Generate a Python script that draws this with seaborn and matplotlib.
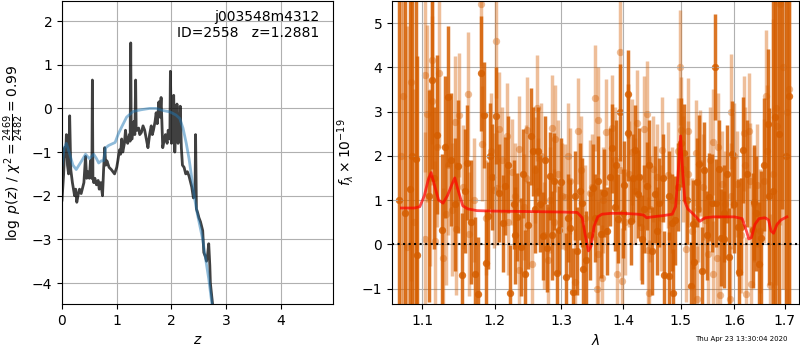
import numpy as np
import matplotlib
matplotlib.use('Agg')
import matplotlib.pyplot as plt
import matplotlib.ticker as mticker
import seaborn as sns

# p(z) panel
z_grid = [0.0, 0.03, 0.05, 0.065, 0.08, 0.10, 0.12, 0.14, 0.16, 0.19,
          0.21, 0.23, 0.25, 0.27, 0.30, 0.32, 0.35, 0.38, 0.40, 0.43,
          0.45, 0.47, 0.50, 0.52, 0.545, 0.555, 0.565, 0.58, 0.60, 0.63,
          0.66, 0.68, 0.71, 0.74, 0.76, 0.78, 0.80, 0.82, 0.86, 0.90,
          0.96, 1.00, 1.02, 1.05, 1.07, 1.09, 1.11, 1.14, 1.16, 1.18,
          1.20, 1.23, 1.245, 1.255, 1.265, 1.28, 1.30, 1.315, 1.33, 1.345,
          1.355, 1.37, 1.40, 1.42, 1.45, 1.48, 1.51, 1.54, 1.57, 1.60,
          1.63, 1.65, 1.67, 1.70, 1.72, 1.74, 1.77, 1.79, 1.81, 1.84,
          1.87, 1.89, 1.92, 1.94, 1.97, 1.98, 2.00, 2.02, 2.04, 2.06,
          2.08, 2.10, 2.12, 2.14, 2.16, 2.18, 2.20, 2.23, 2.26, 2.29,
          2.32, 2.35, 2.37, 2.40, 2.43, 2.44, 2.455, 2.48, 2.50, 2.53,
          2.55, 2.57, 2.59, 2.62, 2.64, 2.66, 2.68, 2.70, 2.71, 2.76]
log_pz = [-2.1, -1.5, -0.9, -1.1, -0.6, -1.3, -1.5, -0.17, -1.4, -1.7,
          -1.85, -2.0, -1.85, -2.15, -1.95, -1.85, -1.95, -1.8, -1.7, -1.1,
          -1.6, -1.45, -1.6, -1.2, -1.6, 0.65, -1.6, -1.7, -1.6, -1.75,
          -1.65, -1.85, -1.7, -2.0, -1.4, -0.9, -1.3, -1.2, -1.35, -1.4,
          -1.5, -1.35, -1.2, -0.95, -1.05, -0.7, -1.0, -0.8, -0.5, -0.75,
          -0.8, -0.6, -0.75, 1.5, -0.7, -0.7, -0.4, -0.3, -0.6, 0.65,
          -0.5, -0.5, -0.45, -0.6, -0.55, -0.4, -0.5, -0.7, -0.9, -0.6,
          -0.4, -0.6, -0.5, -0.3, -0.1, -0.35, 0.15, -0.2, 0.25, -0.9,
          -0.7, -0.6, -0.8, -0.5, -0.7, 0.85, -0.8, -0.3, 0.3, -1.0,
          -0.4, 0.1, -0.8, -0.6, 0.05, -0.9, -1.3, -1.35, -1.5, -1.45,
          -1.55, -1.7, -1.8, -2.05, -1.9, -0.6, -2.3, -2.4, -2.5, -2.6,
          -2.7, -2.8, -3.3, -3.4, -3.5, -3.35, -3.1, -3.6, -4.0, -4.6]

z_smooth = [0.0, 0.04, 0.08, 0.13, 0.2, 0.26, 0.31, 0.36, 0.43, 0.5,
            0.58, 0.63, 0.67, 0.72, 0.76, 0.8, 0.85, 0.97, 1.03, 1.1,
            1.18, 1.3, 1.45, 1.6, 1.72, 1.85, 1.97, 2.08, 2.15, 2.21,
            2.27, 2.32, 2.36, 2.42, 2.47, 2.52, 2.57, 2.63, 2.68, 2.75]
log_pz_smooth = [-1.3, -0.9, -0.8, -1.0, -1.3, -1.4, -1.3, -1.2, -1.05, -1.15,
                 -1.05, -1.15, -1.25, -1.2, -1.2, -0.9, -0.85, -0.78, -0.58, -0.4,
                 -0.2, -0.07, -0.03, 0.0, 0.0, -0.05, -0.08, -0.15, -0.23, -0.45,
                 -0.8, -1.15, -1.5, -2.05, -2.4, -2.7, -3.0, -3.5, -3.9, -4.6]

# spectrum panel, grism 1 (solid)
wave_a = [1.0773, 1.0838, 1.0916, 1.0938, 1.1093, 1.1127, 1.1194, 1.1271, 1.1348, 1.1384,
          1.1489, 1.1535, 1.1583, 1.1614, 1.1721, 1.1763, 1.1800, 1.1848, 1.1871, 1.1905,
          1.1956, 1.2014, 1.2057, 1.2115, 1.2154, 1.2228, 1.2277, 1.2326, 1.2390, 1.2449,
          1.2498, 1.2538, 1.2563, 1.2647, 1.2672, 1.2713, 1.2774, 1.2825, 1.2887, 1.2938,
          1.2969, 1.3068, 1.3136, 1.3189, 1.3242, 1.3295, 1.3332, 1.3348, 1.3385, 1.3509,
          1.3579, 1.3638, 1.3681, 1.3774, 1.3818, 1.3857, 1.3912, 1.3956, 1.4023, 1.4079,
          1.4091, 1.4136, 1.4209, 1.4249, 1.4277, 1.4317, 1.4409, 1.4496, 1.4548, 1.4624,
          1.4711, 1.4788, 1.4799, 1.4848, 1.4870, 1.4906, 1.5056, 1.5189, 1.5219, 1.5250,
          1.5341, 1.5393, 1.5436, 1.5529, 1.5578, 1.5641, 1.5653, 1.5747, 1.5798, 1.5855,
          1.5893, 1.5950, 1.6065, 1.6097, 1.6162, 1.6357, 1.6390, 1.6475, 1.6521, 1.6654,
          1.6687, 1.6808, 1.6950, 1.7092,
          1.0700, 1.0870, 1.1160, 1.1300, 1.1440, 1.1660, 1.1930, 1.2190, 1.2300, 1.2420,
          1.2600, 1.2750, 1.2860, 1.3000, 1.3100, 1.3220, 1.3450, 1.3540, 1.3730, 1.3880,
          1.4000, 1.4170, 1.4360, 1.4450, 1.4580, 1.4680, 1.4960, 1.5000, 1.5110, 1.5300,
          1.5480, 1.5700, 1.5800, 1.5990, 1.6130, 1.6250, 1.6420, 1.6580, 1.6750, 1.6880,
          1.7020]
flux_a = [0.71, 1.24, 1.92, -0.25, 1.09, 3.71, 2.48, 0.33, 3.34, 1.91,
          1.76, -0.70, 1.20, 1.84, -0.68, -1.13, 3.87, 2.92, -0.42, 0.65,
          1.53, 2.91, 1.16, 0.47, 1.32, -1.11, 0.90, 0.62, -0.06, -0.68,
          0.43, 2.44, 2.10, 2.10, 0.92, 0.19, -0.08, 1.54, 1.42, -0.65,
          0.32, -0.75, 0.37, -1.08, -0.15, 1.20, 0.94, -0.56, -0.35, 1.27,
          1.44, 0.24, 1.16, 1.52, 2.17, 0.84, 0.58, 2.98, 1.33, 3.40,
          2.52, 0.53, 2.14, 1.14, 1.52, 0.11, 1.32, -0.15, 1.13, 0.94,
          -0.70, -0.72, 1.10, 0.49, -1.11, 0.54, 2.07, -0.94, 0.45, -0.40,
          1.82, -0.60, 1.67, 1.07, 0.93, 4.00, 0.93, 0.15, 0.11, 1.59,
          -0.29, 2.03, 0.38, -0.62, 2.14, 0.32, 0.95, -0.44, 0.15, 2.72,
          1.09, 2.87, 5.80, 3.36,
          1.0, 2.0, 1.5, 2.2, 0.9, 0.5, 2.0, 1.8, 0.2, 1.6,
          0.8, 1.9, 0.2, 1.4, 0.6, 1.1, 0.2, 0.6, 0.3, 1.8,
          0.7, 1.5, 0.8, 1.8, 0.3, 1.5, 1.3, 2.3, 1.0, 1.4,
          0.2, 1.7, 0.7, 0.9, 0.4, 1.6, 0.7, 1.8, 1.2, 2.5,
          2.0]
err_a = [5.0, 5.0, 4.5, 4.5, 2.4, 2.0, 1.8, 1.7, 1.6, 1.5,
         1.5, 1.4, 1.4, 1.3, 1.3, 1.3, 1.3, 1.2, 1.2, 1.2,
         1.2, 1.1, 1.1, 1.1, 1.1, 1.1, 1.0, 1.0, 1.1, 1.0,
         1.0, 1.1, 1.0, 1.0, 1.1, 1.0, 1.0, 1.0, 1.1, 1.0,
         1.0, 1.0, 1.1, 1.0, 1.0, 1.1, 1.0, 1.0, 1.1, 1.0,
         1.0, 1.0, 1.0, 1.1, 1.0, 1.0, 1.0, 1.1, 1.0, 1.0,
         1.1, 1.0, 1.0, 1.0, 1.1, 1.0, 1.0, 1.0, 1.1, 1.0,
         1.0, 1.0, 1.0, 1.1, 1.0, 1.0, 1.1, 1.0, 1.0, 1.0,
         1.1, 1.0, 1.1, 1.0, 1.1, 1.2, 1.0, 1.1, 1.1, 1.1,
         1.1, 1.2, 1.1, 1.2, 1.2, 1.3, 1.3, 1.4, 1.5, 1.7,
         2.0, 4.5, 5.0, 5.0,
         5.0, 5.0, 1.6, 1.6, 1.5, 1.4, 1.2, 1.1, 1.1, 1.0,
         1.0, 1.0, 1.0, 1.0, 1.0, 1.0, 1.0, 1.0, 1.0, 1.0,
         1.0, 1.0, 1.0, 1.0, 1.0, 1.0, 1.0, 1.0, 1.0, 1.0,
         1.0, 1.1, 1.1, 1.1, 1.1, 1.2, 1.3, 1.5, 4.5, 5.0,
         5.0]

# grism 2 (faint)
wave_b = [1.0756, 1.0808, 1.0850, 1.1034, 1.1040, 1.1070, 1.1127, 1.1130, 1.1173, 1.1226,
          1.1275, 1.1325, 1.1397, 1.1439, 1.1452, 1.1492, 1.1618, 1.1637, 1.1805, 1.1824,
          1.1942, 1.1991, 1.2024, 1.2040, 1.2106, 1.2179, 1.2252, 1.2350, 1.2360, 1.2424,
          1.2483, 1.2548, 1.2597, 1.2622, 1.2637, 1.2738, 1.2789, 1.2851, 1.2892, 1.2902,
          1.3005, 1.3057, 1.3140, 1.3215, 1.3268, 1.3311, 1.3455, 1.3536, 1.3563, 1.3585,
          1.3590, 1.3645, 1.3719, 1.3813, 1.3901, 1.3940, 1.3951, 1.3984, 1.4096, 1.4152,
          1.4232, 1.4363, 1.4403, 1.4421, 1.4449, 1.4467, 1.4577, 1.4670, 1.4770, 1.4948,
          1.4990, 1.5008, 1.5098, 1.5128, 1.5140, 1.5280, 1.5298, 1.5311, 1.5350, 1.5454,
          1.5498, 1.5591, 1.5600, 1.5666, 1.5685, 1.5729, 1.5766, 1.5925, 1.5937, 1.5944,
          1.6046, 1.6181, 1.6214, 1.6227, 1.6279, 1.6305, 1.6324, 1.6442, 1.6587, 1.6620,
          1.6634, 1.6700, 1.6821, 1.6835, 1.6909, 1.7040,
          1.0720, 1.0900, 1.1100, 1.1200, 1.1350, 1.1550, 1.1700, 1.1880, 1.2070, 1.2200,
          1.2300, 1.2460, 1.2680, 1.2820, 1.2950, 1.3100, 1.3380, 1.3480, 1.3660, 1.3860,
          1.4030, 1.4200, 1.4300, 1.4520, 1.4650, 1.4850, 1.5050, 1.5200, 1.5400, 1.5530,
          1.5820, 1.6000, 1.6120, 1.6380, 1.6500, 1.6760, 1.6960, 1.7090]
flux_b = [3.36, -0.06, 3.68, 0.13, 3.83, 2.95, 4.17, 3.25, 0.08, 3.88,
          -0.32, 0.68, 0.78, 2.76, 0.35, 2.92, 3.40, 0.24, 5.44, 2.27,
          2.12, 1.22, 4.60, 1.28, 1.90, 2.44, 1.63, -0.59, 2.15, 0.84,
          2.59, -0.44, 1.67, 3.08, 1.20, 0.20, -0.36, 2.63, 0.50, 2.39,
          1.10, 1.07, 1.44, -0.85, 2.57, 1.69, 1.16, 3.31, -1.02, 2.80,
          -0.23, -0.76, 2.53, 2.63, -0.68, 4.34, 1.69, -0.83, 1.59, 2.08,
          2.74, 2.60, 2.95, -0.14, -1.11, 0.80, 1.52, 2.14, 1.56, 2.10,
          4.00, 2.59, -0.10, 2.55, 1.59, 2.07, -1.23, 0.80, 1.84, 0.54,
          -0.21, 2.32, -0.68, -0.31, 2.21, -1.15, 1.37, -1.23, 1.10, 3.00,
          1.37, 2.51, 1.80, -1.13, 2.57, 1.44, -0.89, 1.33, 1.44, 3.35,
          2.10, -0.92, 3.08, 2.68, 5.44, 3.00,
          2.0, 0.5, 1.5, 2.2, 1.8, 1.3, 1.0, 0.6, 2.6, 0.5,
          1.1, 1.5, 2.0, 1.0, 1.6, 2.0, 0.6, 1.3, 1.0, 1.9,
          0.5, 1.2, 0.4, 1.7, 0.6, 1.0, 1.7, 0.3, 1.3, 1.9,
          0.9, 2.0, 0.2, 0.9, 0.3, 1.6, 4.0, 3.5]
err_b = [5.0, 5.0, 4.5, 2.4, 2.2, 2.0, 1.9, 1.9, 1.8, 1.7,
         1.6, 1.6, 1.5, 1.5, 1.5, 1.4, 1.4, 1.4, 1.4, 1.3,
         1.3, 1.3, 1.3, 1.3, 1.2, 1.2, 1.2, 1.2, 1.2, 1.2,
         1.2, 1.2, 1.2, 1.2, 1.2, 1.2, 1.2, 1.2, 1.2, 1.2,
         1.2, 1.2, 1.2, 1.2, 1.2, 1.2, 1.2, 1.2, 1.2, 1.2,
         1.2, 1.2, 1.2, 1.2, 1.2, 1.3, 1.2, 1.2, 1.2, 1.2,
         1.2, 1.2, 1.2, 1.2, 1.2, 1.2, 1.2, 1.2, 1.2, 1.2,
         1.3, 1.2, 1.2, 1.2, 1.2, 1.2, 1.2, 1.2, 1.2, 1.2,
         1.2, 1.2, 1.2, 1.2, 1.2, 1.2, 1.2, 1.2, 1.2, 1.3,
         1.2, 1.3, 1.3, 1.3, 1.3, 1.3, 1.3, 1.4, 1.4, 1.5,
         1.5, 1.6, 4.0, 4.5, 5.0, 5.0,
         5.0, 3.0, 2.0, 1.8, 1.6, 1.4, 1.4, 1.3, 1.3, 1.2,
         1.2, 1.2, 1.2, 1.2, 1.2, 1.2, 1.2, 1.2, 1.2, 1.2,
         1.2, 1.2, 1.2, 1.2, 1.2, 1.2, 1.2, 1.2, 1.2, 1.2,
         1.2, 1.2, 1.3, 1.3, 1.4, 3.5, 5.0, 5.0]

# best-fit model
model_wave = [1.073, 1.09, 1.097, 1.103, 1.108, 1.112, 1.117, 1.122, 1.128, 1.134,
              1.140, 1.144, 1.149, 1.155, 1.162, 1.175, 1.20, 1.25, 1.30, 1.325,
              1.333, 1.338, 1.343, 1.347, 1.352, 1.358, 1.365, 1.38, 1.40, 1.425,
              1.435, 1.44, 1.45, 1.47, 1.485, 1.491, 1.495, 1.50, 1.504, 1.508,
              1.513, 1.52, 1.528, 1.535, 1.545, 1.56, 1.60, 1.615, 1.622, 1.628,
              1.633, 1.64, 1.648, 1.66, 1.667, 1.672, 1.677, 1.684, 1.692, 1.704]
model_flux = [0.82, 0.82, 0.85, 1.1, 1.45, 1.62, 1.3, 1.0, 0.93, 1.1,
              1.35, 1.5, 1.2, 0.87, 0.8, 0.76, 0.75, 0.74, 0.73, 0.72,
              0.6, 0.2, -0.15, -0.05, 0.4, 0.62, 0.68, 0.7, 0.7, 0.68,
              0.66, 0.6, 0.62, 0.65, 0.68, 0.85, 1.5, 2.45, 1.6, 0.95,
              0.8, 0.72, 0.62, 0.52, 0.6, 0.62, 0.62, 0.58, 0.35, 0.12,
              0.15, 0.45, 0.58, 0.6, 0.55, 0.3, 0.25, 0.45, 0.55, 0.62]

wave_ticks = [1.1, 1.2, 1.3, 1.4, 1.5, 1.6, 1.7]
grism_color = (0.835, 0.369, 0.0)

fig = plt.figure(figsize=(8, 3.5), dpi=100)
ax1 = fig.add_axes([62/800, 46/350, 271/800, 303/350])
ax2 = fig.add_axes([392/800, 46/350, 407/800, 303/350])

# left: p(z)
sns.lineplot(x=z_grid, y=log_pz, ax=ax1, color='k', alpha=0.75, lw=2, sort=False)
sns.lineplot(x=z_smooth, y=log_pz_smooth, ax=ax1, color='tab:blue', alpha=0.5, lw=2, sort=False)
ax1.set_xlim(0, 4.95)
ax1.set_ylim(-4.48, 2.46)
ax1.set_xticks([0, 1, 2, 3, 4])
ax1.set_yticks([-4, -3, -2, -1, 0, 1, 2])
ax1.grid(True)
ax1.set_xlabel(r'$z$')
ax1.set_ylabel(r'$\log\ p(z)$' + ' / ' + r'$\chi^2=\frac{2469}{2482}=0.99$')
ax1.text(0.95, 0.97, 'j003548m4312\nID=2558   z=1.2881', transform=ax1.transAxes,
         ha='right', va='top', fontsize=10)

# right: spectrum
ax2.errorbar(wave_b, flux_b, yerr=err_b, fmt='none', ecolor=grism_color, alpha=0.4, elinewidth=2.5)
sns.scatterplot(x=wave_b, y=flux_b, ax=ax2, color=grism_color, alpha=0.4, s=28, linewidth=0)
ax2.errorbar(wave_a, flux_a, yerr=err_a, fmt='none', ecolor=grism_color, alpha=0.85, elinewidth=2.5)
sns.scatterplot(x=wave_a, y=flux_a, ax=ax2, color=grism_color, alpha=0.85, s=28, linewidth=0)
sns.lineplot(x=model_wave, y=model_flux, ax=ax2, color='r', alpha=0.7, lw=2, sort=False)
ax2.axhline(0, color='k', ls=':', lw=1.5)

ax2.set_xscale('log')
ax2.set_xlim(1.061, 1.729)
ax2.set_ylim(-1.35, 5.5)
ax2.xaxis.set_minor_locator(mticker.NullLocator())
ax2.set_xticks(wave_ticks)
ax2.set_xticklabels([f'{w:.1f}' for w in wave_ticks])
ax2.set_yticks([-1, 0, 1, 2, 3, 4, 5])
ax2.grid(True)
ax2.set_xlabel(r'$\lambda$')
ax2.set_ylabel(r'$f_\lambda\times10^{-19}$')

fig.text(0.985, 0.03, 'Thu Apr 23 13:30:04 2020', ha='right', va='center', fontsize=5)

fig.savefig('out.png', dpi=100)
